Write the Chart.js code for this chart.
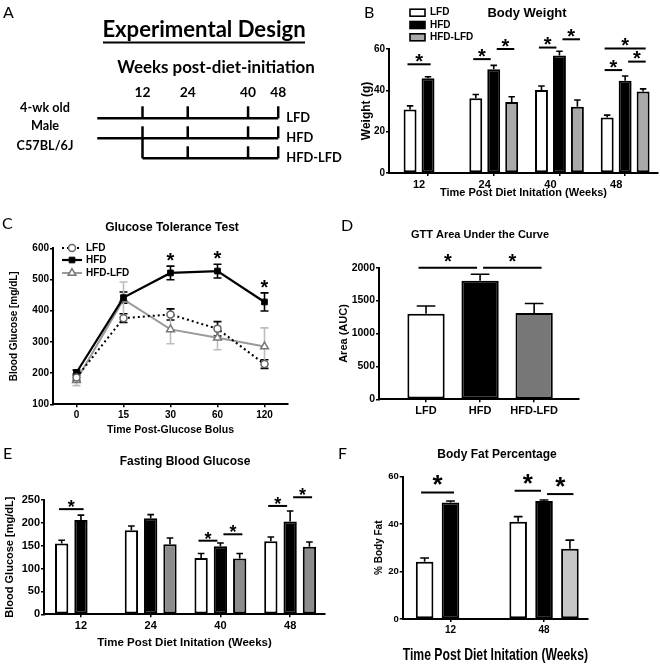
<!DOCTYPE html>
<html>
<head>
<meta charset="utf-8">
<script src="https://cdn.jsdelivr.net/npm/chart.js@4.4.1/dist/chart.umd.min.js"></script>
<style>
  body { margin: 0; background: #fff; }
  #fig { position: relative; width: 660px; height: 666px; overflow: hidden; background: #fff; }
  #fig canvas { position: absolute; }
  .tag { position: absolute; font: 16px Lato, sans-serif; color: #000; line-height: 1; }
</style>
</head>
<body>
<div id="fig">
  <canvas id="weightChart" width="330" height="215" style="left:330px;top:0"></canvas>
  <canvas id="designChart" width="350" height="215" style="left:0;top:0"></canvas>
  <canvas id="gttChart" width="330" height="225" style="left:0;top:215px"></canvas>
  <canvas id="aucChart" width="330" height="225" style="left:330px;top:215px"></canvas>
  <canvas id="fbgChart" width="330" height="226" style="left:0;top:440px"></canvas>
  <canvas id="fatChart" width="330" height="226" style="left:330px;top:440px"></canvas>
  <div class="tag" style="left:3px;top:4px">A</div>
  <div class="tag" style="left:364px;top:4px">B</div>
  <div class="tag" style="left:2px;top:215px">C</div>
  <div class="tag" style="left:341px;top:217px">D</div>
  <div class="tag" style="left:3px;top:445px">E</div>
  <div class="tag" style="left:338px;top:445px">F</div>
</div>
<script>
const FONT = "'Liberation Sans', Arial, sans-serif";
const NARROW = "'Liberation Sans Narrow', 'Liberation Sans', sans-serif";
const DESIGN_FONT = "Lato, 'Open Sans', sans-serif";

const groups = ['LFD', 'HFD', 'HFD-LFD'];
const weekLabels = ['12', '24', '40', '48'];

// A - design timeline
const designStart = [0, 0, 12];
const designEnd = 48;
const designWeeks = [12, 24, 40, 48];
const mouseLines = ['4-wk old', 'Male', 'C57BL/6J'];

// B - body weight (g)
const bwLFD = [30.7, 36.2, 40.2, 26.9];
const bwHFD = [45.8, 50.2, 56.9, 44.6];
const bwSwitch = [null, 34.3, 32.0, 39.4];
const bwLFDErr = [1.8, 1.8, 1.9, 1.1];
const bwHFDErr = [0.8, 1.9, 2.0, 2.3];
const bwSwitchErr = [0, 2.6, 3.3, 1.3];
// [week index, group a, group b, line level]
const bwSig = [[0, 0, 1, 52.6], [1, 0, 1, 55.1], [1, 1, 2, 60], [2, 0, 1, 60.7], [2, 1, 2, 64.7],
               [3, 0, 1, 49.8], [3, 1, 2, 53.9], [3, 0, 2, 60.3]];

// C - glucose tolerance test
const gttTimes = ['0', '15', '30', '60', '120'];
const gttLFD = [186, 376, 388, 342, 229];
const gttHFD = [202, 442, 521, 527, 428];
const gttSwitch = [177, 436, 340, 313, 285];
const gttLFDErr = [10, 14, 18, 23, 14];
const gttHFDErr = [8, 18, 22, 22, 29];
const gttSwitchErr = [17, 56, 46, 38, 60];
const gttSig = [2, 3, 4];

// D - GTT area under the curve
const aucValues = [1300, 1800, 1310];
const aucErr = [118, 100, 145];
const aucSig = [[0, 1, 2000], [1, 2, 2000]];

// E - fasting blood glucose
const fbgLFD = [155, 184, 123, 160];
const fbgHFD = [206, 210, 149, 203];
const fbgSwitch = [null, 153, 122, 148];
const fbgLFDErr = [7, 9, 10, 9];
const fbgHFDErr = [11, 8, 7, 23];
const fbgSwitchErr = [0, 14, 11, 10];
const fbgSig = [[0, 0, 1, 230], [2, 0, 1, 161], [2, 1, 2, 175], [3, 0, 1, 237], [3, 1, 2, 256]];

// F - body fat percentage
const fatLabels = ['12', '48'];
const fatLFD = [24.1, 41.0];
const fatHFD = [49.1, 49.7];
const fatSwitch = [null, 29.6];
const fatLFDErr = [1.6, 2.1];
const fatHFDErr = [0.6, 0.4];
const fatSwitchErr = [0, 3.6];
const fatSig = [[0, 0, 1, 53.3], [1, 0, 1, 54], [1, 1, 2, 52.6]];

function boldFont(size, family) {
  return { family: family || FONT, size: size, weight: 'bold' };
}

const tickGrid = { drawOnChartArea: false, drawTicks: true, tickLength: 3, color: '#000', lineWidth: 1.5, offset: false };
const axisLine = { display: true, color: '#000', width: 2 };

function caption(text, x, y, size, family) {
  return {
    id: 'caption',
    afterDraw(chart) {
      const ctx = chart.ctx;
      ctx.save();
      ctx.font = 'bold ' + size + 'px ' + (family || FONT);
      ctx.fillStyle = '#000';
      ctx.textAlign = 'center';
      ctx.textBaseline = 'middle';
      ctx.fillText(text, x, y);
      ctx.restore();
    }
  };
}

function drawStar(ctx, x, bottom, size) {
  ctx.font = 'bold ' + size + 'px ' + FONT;
  ctx.textAlign = 'center';
  ctx.textBaseline = 'alphabetic';
  const below = ctx.measureText('*').actualBoundingBoxDescent;
  ctx.fillText('*', x, bottom - below);
}

// error bars (upper only) + significance lines for the bar panels
function barExtras(errors, pairs, star) {
  return {
    id: 'barExtras',
    afterDatasetsDraw(chart) {
      const ctx = chart.ctx;
      const y = chart.scales.y;
      ctx.save();
      ctx.strokeStyle = '#000';
      ctx.fillStyle = '#000';
      ctx.lineWidth = 1.6;
      chart.data.datasets.forEach((ds, d) => {
        chart.getDatasetMeta(d).data.forEach((bar, i) => {
          const v = ds.data[i].y;
          if (v === null) return;
          const top = y.getPixelForValue(v + errors[d][i]);
          const cap = bar.width * 0.25;
          ctx.beginPath();
          ctx.moveTo(bar.x, bar.y);
          ctx.lineTo(bar.x, top);
          ctx.moveTo(bar.x - cap, top);
          ctx.lineTo(bar.x + cap, top);
          ctx.stroke();
        });
      });
      ctx.lineWidth = 2;
      const list = pairs(chart);
      list.forEach(([a, b, level]) => {
        // pull ends in where another line of the same group continues, stretch them otherwise
        const joinLeft = list.some(o => o[1] === a);
        const joinRight = list.some(o => o[0] === b);
        const x0 = joinLeft ? a.x + 3 : a.x - a.width * 0.2;
        const x1 = joinRight ? b.x - 3 : b.x + b.width * 0.2;
        const py = y.getPixelForValue(level);
        ctx.beginPath();
        ctx.moveTo(x0, py);
        ctx.lineTo(x1, py);
        ctx.stroke();
        drawStar(ctx, (x0 + x1) / 2, py - star.gap, star.size);
      });
      ctx.restore();
    }
  };
}

function groupedPairs(sig) {
  return chart => sig.map(([g, a, b, level]) =>
    [chart.getDatasetMeta(a).data[g], chart.getDatasetMeta(b).data[g], level]);
}

function barChart(id, p) {
  return new Chart(document.getElementById(id), {
    type: 'bar',
    data: {
      datasets: p.series.map((vals, d) => ({
        label: p.names[d],
        data: vals.map((v, i) => ({ x: i, y: v })),
        backgroundColor: p.fills[d],
        borderColor: '#000',
        borderWidth: 2,
        borderSkipped: false,
        categoryPercentage: p.catPct,
        barPercentage: p.barPct
      }))
    },
    options: {
      responsive: false,
      animation: false,
      events: [],
      layout: { padding: { top: p.top, right: p.right, left: 0, bottom: 0 } },
      plugins: { legend: { display: false }, tooltip: { enabled: false } },
      scales: {
        x: {
          type: 'linear',
          min: p.xMin,
          max: p.xMax,
          offset: false,
          afterBuildTicks: s => { s.ticks = p.ticks.map((t, i) => ({ value: i })); },
          ticks: { callback: v => p.ticks[v], font: boldFont(p.xTick), color: '#000', padding: 2,
                   labelOffset: p.labelShift || 0, maxRotation: 0, autoSkip: false },
          grid: tickGrid,
          border: axisLine,
          title: p.xTitle ? {
            display: true, text: p.xTitle, color: '#000', font: boldFont(p.xTitleSize, p.xTitleFamily),
            padding: { top: 0, bottom: p.xTitleBottom - p.xTitleSize * 0.6 }
          } : { display: false },
          afterFit: s => { s.height = p.xHeight; }
        },
        y: {
          min: 0,
          max: p.yMax,
          ticks: { stepSize: p.yStep, callback: v => String(v), font: boldFont(p.yTick), color: '#000', padding: 1 },
          grid: tickGrid,
          border: axisLine,
          title: {
            display: true, text: p.yTitle, color: '#000', font: boldFont(p.yTitleSize, p.yTitleFamily),
            padding: { top: p.yTitleX - p.yTitleSize * 0.6, bottom: 0 }
          },
          afterFit: s => { s.width = p.yWidth; }
        }
      }
    },
    plugins: p.plugins
  });
}

// ---------- A: experimental design ----------
const designPlugin = {
  id: 'design',
  afterDatasetsDraw(chart) {
    const ctx = chart.ctx;
    const x = chart.scales.x, y = chart.scales.y;
    const fit = (text, width) => {
      ctx.font = 'bold 20px ' + DESIGN_FONT;
      const s = 20 * width / ctx.measureText(text).width;
      ctx.font = 'bold ' + s.toFixed(1) + 'px ' + DESIGN_FONT;
    };
    ctx.save();
    ctx.strokeStyle = '#000';
    ctx.fillStyle = '#000';
    ctx.lineWidth = 2.5;
    ctx.textBaseline = 'alphabetic';
    groups.forEach((g, i) => {
      designWeeks.forEach(w => {
        if (w < designStart[i]) return;
        const from = (w === designStart[i] && i > 0) ? i - 1 : i - 0.6;
        ctx.beginPath();
        ctx.moveTo(x.getPixelForValue(w), y.getPixelForValue(from));
        ctx.lineTo(x.getPixelForValue(w), y.getPixelForValue(i));
        ctx.stroke();
      });
      fit('HFD', 27);
      ctx.textAlign = 'left';
      ctx.fillText(g, x.getPixelForValue(designEnd) + 8, y.getPixelForValue(i) + 4);
    });
    ctx.textAlign = 'center';
    fit('48', 16);
    designWeeks.forEach(w => ctx.fillText(String(w), x.getPixelForValue(w), y.getPixelForValue(0) - 21));

    fit('Experimental Design', 203);
    ctx.fillText('Experimental Design', 204, 37);
    ctx.lineWidth = 2;
    ctx.beginPath();
    ctx.moveTo(103, 42.5);
    ctx.lineTo(305, 42.5);
    ctx.stroke();
    fit('Weeks post-diet-initiation', 198);
    ctx.fillText('Weeks post-diet-initiation', 216, 73);
    fit('C57BL/6J', 57);
    const mouseY = [111.5, 130, 150];
    mouseLines.forEach((t, i) => ctx.fillText(t, 45, mouseY[i]));
    ctx.restore();
  }
};

new Chart(document.getElementById('designChart'), {
  type: 'scatter',
  data: {
    datasets: groups.map((g, i) => ({
      label: g,
      data: [{ x: designStart[i], y: i }, { x: designEnd, y: i }],
      showLine: true,
      borderColor: '#000',
      borderWidth: 2.5,
      pointRadius: 0
    }))
  },
  options: {
    responsive: false,
    animation: false,
    events: [],
    layout: { padding: 0 },
    plugins: { legend: { display: false }, tooltip: { enabled: false } },
    scales: {
      x: { type: 'linear', display: false, min: -25.8, max: 67.04 },
      y: { type: 'linear', display: false, reverse: true, min: -5.915, max: 4.835 }
    }
  },
  plugins: [designPlugin]
});

// ---------- B: body weight ----------
const weightLegend = {
  id: 'weightLegend',
  afterDraw(chart) {
    const ctx = chart.ctx;
    ctx.save();
    ctx.font = 'bold 10px ' + FONT;
    ctx.textBaseline = 'middle';
    ctx.textAlign = 'left';
    chart.data.datasets.forEach((ds, i) => {
      const cy = 12.7 + i * 12.3;
      ctx.fillStyle = ds.backgroundColor;
      ctx.fillRect(80, cy - 3.5, 15, 7);
      ctx.strokeStyle = '#000';
      ctx.lineWidth = 1.6;
      ctx.strokeRect(80, cy - 3.5, 15, 7);
      ctx.fillStyle = '#000';
      ctx.fillText(ds.label, 100, cy);
    });
    ctx.restore();
  }
};

barChart('weightChart', {
  names: groups,
  series: [bwLFD, bwHFD, bwSwitch],
  fills: ['#fff', '#000', '#a9a9a9'],
  ticks: weekLabels,
  labelShift: -9,
  xMin: -0.594, xMax: 3.5, catPct: 0.82, barPct: 0.72,
  top: 49, right: 2, xHeight: 42, yWidth: 59,
  yMax: 60, yStep: 20, yTick: 10, xTick: 11,
  yTitle: 'Weight (g)', yTitleSize: 12, yTitleX: 37,
  xTitle: 'Time Post Diet Initation (Weeks)', xTitleSize: 11, xTitleBottom: 22,
  plugins: [
    barExtras([bwLFDErr, bwHFDErr, bwSwitchErr], groupedPairs(bwSig), { size: 20, gap: 2.5 }),
    weightLegend,
    caption('Body Weight', 197, 13, 13)
  ]
});

// ---------- C: glucose tolerance test ----------
const gttErrors = [gttLFDErr, gttHFDErr, gttSwitchErr];
const gttErrColors = ['#000', '#000', '#bdbdbd'];
const gttExtras = {
  id: 'gttExtras',
  beforeDatasetsDraw(chart) {
    const ctx = chart.ctx, y = chart.scales.y;
    ctx.save();
    ctx.lineWidth = 1.6;
    chart.data.datasets.forEach((ds, d) => {
      ctx.strokeStyle = gttErrColors[d];
      chart.getDatasetMeta(d).data.forEach((pt, i) => {
        const hi = y.getPixelForValue(ds.data[i] + gttErrors[d][i]);
        const lo = y.getPixelForValue(ds.data[i] - gttErrors[d][i]);
        ctx.beginPath();
        ctx.moveTo(pt.x, hi); ctx.lineTo(pt.x, lo);
        ctx.moveTo(pt.x - 4, hi); ctx.lineTo(pt.x + 4, hi);
        ctx.moveTo(pt.x - 4, lo); ctx.lineTo(pt.x + 4, lo);
        ctx.stroke();
      });
    });
    ctx.restore();
  },
  afterDraw(chart) {
    const ctx = chart.ctx, y = chart.scales.y;
    ctx.save();
    ctx.fillStyle = '#000';
    const hfd = chart.getDatasetMeta(1).data;
    gttSig.forEach(i => drawStar(ctx, hfd[i].x, y.getPixelForValue(gttHFD[i] + gttHFDErr[i]) - 5, 20));
    // legend
    ctx.font = 'bold 10px ' + FONT;
    ctx.textAlign = 'left';
    ctx.textBaseline = 'middle';
    const rows = [33, 45, 58];
    chart.data.datasets.forEach((ds, d) => {
      const cy = rows[d];
      ctx.strokeStyle = ds.borderColor;
      ctx.lineWidth = ds.borderWidth;
      ctx.setLineDash(ds.borderDash || []);
      ctx.beginPath();
      ctx.moveTo(62, cy); ctx.lineTo(82, cy);
      ctx.stroke();
      ctx.setLineDash([]);
      ctx.fillStyle = ds.pointBackgroundColor;
      ctx.strokeStyle = ds.pointBorderColor;
      ctx.lineWidth = ds.pointBorderWidth;
      Chart.helpers.drawPoint(ctx, { pointStyle: ds.pointStyle, radius: ds.pointRadius, rotation: 0, borderWidth: ds.pointBorderWidth }, 72, cy);
      ctx.fillStyle = '#000';
      ctx.fillText(ds.label, 86, cy);
    });
    ctx.restore();
  }
};

new Chart(document.getElementById('gttChart'), {
  type: 'line',
  data: {
    labels: gttTimes,
    datasets: [
      { label: 'LFD', data: gttLFD, borderColor: '#000', borderWidth: 2, borderDash: [2, 3],
        pointStyle: 'circle', pointRadius: 3.5, pointBackgroundColor: '#fff', pointBorderColor: '#666', pointBorderWidth: 1.5 },
      { label: 'HFD', data: gttHFD, borderColor: '#000', borderWidth: 2.2,
        pointStyle: 'rect', pointRadius: 4, pointBackgroundColor: '#000', pointBorderColor: '#000', pointBorderWidth: 1 },
      { label: 'HFD-LFD', data: gttSwitch, borderColor: '#9a9a9a', borderWidth: 2,
        pointStyle: 'triangle', pointRadius: 4.5, pointBackgroundColor: '#fff', pointBorderColor: '#777', pointBorderWidth: 1.5 }
    ]
  },
  options: {
    responsive: false,
    animation: false,
    events: [],
    layout: { padding: { top: 33.3, right: 42, left: 0, bottom: 0 } },
    plugins: { legend: { display: false }, tooltip: { enabled: false } },
    scales: {
      x: {
        type: 'category',
        offset: true,
        ticks: { font: boldFont(10), color: '#000', padding: 2 },
        grid: tickGrid,
        border: axisLine,
        title: { display: true, text: 'Time Post-Glucose Bolus', color: '#000', font: boldFont(10.5),
                 padding: { top: 0, bottom: 10 - 6.3 } },
        afterFit: s => { s.height = 35.7; }
      },
      y: {
        min: 100, max: 600,
        ticks: { stepSize: 100, font: boldFont(10), color: '#000', padding: 1 },
        grid: tickGrid,
        border: axisLine,
        title: { display: true, text: 'Blood Glucose [mg/dL]', color: '#000', font: boldFont(10),
                 padding: { top: 14 - 6, bottom: 0 } },
        afterFit: s => { s.width = 53; }
      }
    }
  },
  plugins: [gttExtras, caption('Glucose Tolerance Test', 172, 13, 12)]
});

// ---------- D: GTT AUC ----------
barChart('aucChart', {
  names: ['AUC'],
  series: [aucValues],
  fills: [['#fff', '#000', '#777']],
  ticks: groups,
  xMin: -0.87, xMax: 2.83, catPct: 1, barPct: 0.69,
  top: 52.7, right: 81, xHeight: 40.7, yWidth: 49,
  yMax: 2000, yStep: 500, yTick: 10.5, xTick: 11,
  yTitle: 'Area (AUC)', yTitleSize: 11, yTitleX: 14,
  xTitle: null,
  plugins: [
    barExtras([aucErr], chart => aucSig.map(([a, b, level]) =>
      [chart.getDatasetMeta(0).data[a], chart.getDatasetMeta(0).data[b], level]), { size: 20, gap: 6 }),
    caption('GTT Area Under the Curve', 150, 20, 11)
  ]
});

// ---------- E: fasting blood glucose ----------
barChart('fbgChart', {
  names: groups,
  series: [fbgLFD, fbgHFD, fbgSwitch],
  fills: ['#fff', '#000', '#8c8c8c'],
  ticks: weekLabels,
  xMin: -0.53, xMax: 3.5, catPct: 0.83, barPct: 0.69,
  top: 60, right: 5, xHeight: 51.7, yWidth: 44,
  yMax: 250, yStep: 50, yTick: 11, xTick: 11,
  yTitle: 'Blood Glucose [mg/dL]', yTitleSize: 11, yTitleX: 10,
  xTitle: 'Time Post Diet Initation (Weeks)', xTitleSize: 11.5, xTitleBottom: 23,
  plugins: [
    barExtras([fbgLFDErr, fbgHFDErr, fbgSwitchErr], groupedPairs(fbgSig), { size: 18, gap: 2 }),
    caption('Fasting Blood Glucose', 185, 22, 12)
  ]
});

// ---------- F: body fat ----------
barChart('fatChart', {
  names: groups,
  series: [fatLFD, fatHFD, fatSwitch],
  fills: ['#fff', '#000', '#c6c6c6'],
  ticks: fatLabels,
  xMin: -0.511, xMax: 1.47, catPct: 0.83, barPct: 0.68,
  top: 36.5, right: 72, xHeight: 47, yWidth: 72.7,
  yMax: 60, yStep: 20, yTick: 9.5, xTick: 10,
  yTitle: '% Body Fat', yTitleSize: 10, yTitleX: 49,
  xTitle: 'Time Post Diet Initation (Weeks)', xTitleSize: 17, xTitleBottom: 11, xTitleFamily: NARROW,
  plugins: [
    barExtras([fatLFDErr, fatHFDErr, fatSwitchErr], groupedPairs(fatSig), { size: 26, gap: 7 }),
    caption('Body Fat Percentage', 167, 15, 12)
  ]
});
</script>
</body>
</html>
